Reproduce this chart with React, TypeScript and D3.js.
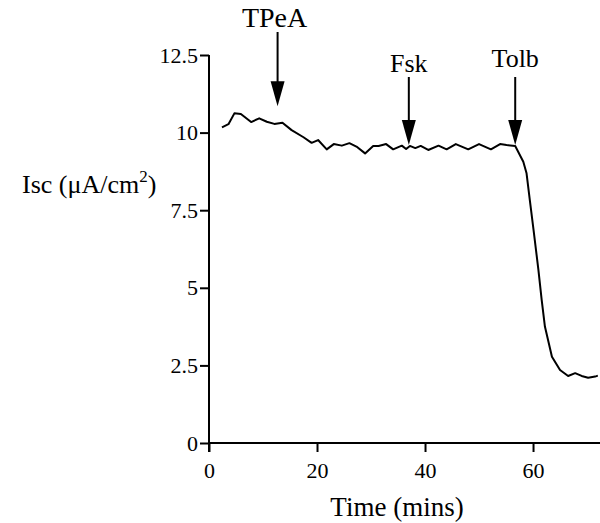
import React, { useEffect, useRef } from "react";
import * as d3 from "d3";

const times = [2.4, 3.6, 4.7, 5.9, 7.8, 9.3, 10.7, 12.1, 13.6, 15.3, 17.5, 19.0, 20.2, 21.8, 23.1, 24.6, 26.0, 27.3, 28.9, 30.4, 31.4, 32.8, 34.1, 35.7, 36.5, 37.2, 38.2, 39.2, 40.6, 42.5, 44.0, 45.7, 48.0, 50.0, 52.2, 53.9, 55.1, 56.7, 58.2, 58.8, 59.4, 60.1, 61.0, 61.6, 62.2, 63.5, 65.0, 66.5, 67.8, 69.0, 70.2, 71.5, 72.0];
const isc = [10.17, 10.27, 10.62, 10.6, 10.34, 10.46, 10.35, 10.28, 10.32, 10.08, 9.85, 9.67, 9.76, 9.46, 9.63, 9.58, 9.66, 9.55, 9.33, 9.57, 9.57, 9.63, 9.46, 9.58, 9.47, 9.57, 9.5, 9.57, 9.44, 9.58, 9.46, 9.63, 9.46, 9.63, 9.46, 9.63, 9.6, 9.57, 9.06, 8.69, 7.83, 6.86, 5.57, 4.61, 3.75, 2.78, 2.35, 2.16, 2.25, 2.16, 2.1, 2.14, 2.17];

const xTicks = [0, 20, 40, 60];
const yTicks = [0, 2.5, 5, 7.5, 10, 12.5];

const arrowNames = ["TPeA", "Fsk", "Tolb"];
const arrowTimes = [12.7, 37.0, 56.7];
const arrowTipValues = [10.85, 9.6, 9.6];

const W = 600;
const H = 523;
const FONT = "Liberation Serif, Tinos, Times New Roman, Times, DejaVu Serif, serif";

export default function App() {
  const ref = useRef<SVGSVGElement | null>(null);

  useEffect(() => {
    const svg = d3.select(ref.current);
    svg.selectAll("*").remove();

    const x = d3.scaleLinear().domain([0, 72.4]).range([209, 600]);
    const y = d3.scaleLinear().domain([0, 12.5]).range([443, 55]);

    // y axis
    const gy = svg.append("g").attr("transform", `translate(${x(0)},0)`);
    gy.call(
      d3.axisLeft(y).tickValues(yTicks).tickSize(9).tickPadding(2)
        .tickFormat((d: any) => String(d))
    );
    gy.attr("font-family", null).attr("font-size", null);
    gy.select(".domain").attr("d", `M0,${y(12.5)}V${y(0) + 9}`).attr("stroke", "#000").attr("stroke-width", 2);
    gy.selectAll(".tick line").attr("stroke", "#000").attr("stroke-width", 2);
    gy.selectAll(".tick text").style("font-family", FONT).style("font-size", "22px").attr("fill", "#000");

    // x axis
    const gx = svg.append("g").attr("transform", `translate(0,${y(0)})`);
    gx.call(
      d3.axisBottom(x).tickValues(xTicks).tickSize(9).tickPadding(10)
        .tickFormat((d: any) => String(d))
    );
    gx.attr("font-family", null).attr("font-size", null);
    gx.select(".domain").attr("d", `M${x(0)},0H600`).attr("stroke", "#000").attr("stroke-width", 2);
    gx.selectAll(".tick line").attr("stroke", "#000").attr("stroke-width", 2);
    gx.selectAll(".tick text").style("font-family", FONT).style("font-size", "22px").attr("fill", "#000");

    // data line
    const pts = times.map((t, i) => [t, isc[i]] as [number, number]);
    const line = d3.line<[number, number]>().x(d => x(d[0])).y(d => y(d[1]));
    svg.append("path").attr("d", line(pts)).attr("fill", "none").attr("stroke", "#000")
      .attr("stroke-width", 2).attr("stroke-linejoin", "round");

    // arrows
    const labelBase = [27, 72, 67];
    const lineTop = [32, 77, 77];
    const labelSize = [28, 26, 26];
    arrowNames.forEach((name, i) => {
      const ax = x(arrowTimes[i]);
      const tip = y(arrowTipValues[i]);
      const headLen = 25;
      const headW = 7;
      svg.append("line").attr("x1", ax).attr("x2", ax).attr("y1", lineTop[i]).attr("y2", tip - headLen + 2)
        .attr("stroke", "#000").attr("stroke-width", 2);
      svg.append("path")
        .attr("d", `M${ax - headW},${tip - headLen}L${ax + headW},${tip - headLen}L${ax},${tip}Z`)
        .attr("fill", "#000");
      svg.append("text").attr("x", ax - (i === 0 ? 3 : 0)).attr("y", labelBase[i]).attr("text-anchor", "middle")
        .style("font-family", FONT).style("font-size", `${labelSize[i]}px`).attr("fill", "#000").text(name);
    });

    // axis titles
    svg.append("text").attr("x", 397).attr("y", 516).attr("text-anchor", "middle")
      .style("font-family", FONT).style("font-size", "27px").attr("fill", "#000").text("Time (mins)");

    const yl = svg.append("text").attr("x", 22).attr("y", 193)
      .style("font-family", FONT).style("font-size", "26px").attr("fill", "#000");
    yl.append("tspan").text("Isc (\u03bcA/cm");
    yl.append("tspan").style("font-size", "17px").attr("dy", -11).text("2");
    yl.append("tspan").attr("dy", 11).text(")");
  }, []);

  return (
    <svg ref={ref} width={W} height={H} style={{ position: "absolute", left: 0, top: 0, background: "#fff", fontFamily: FONT }} />
  );
}
